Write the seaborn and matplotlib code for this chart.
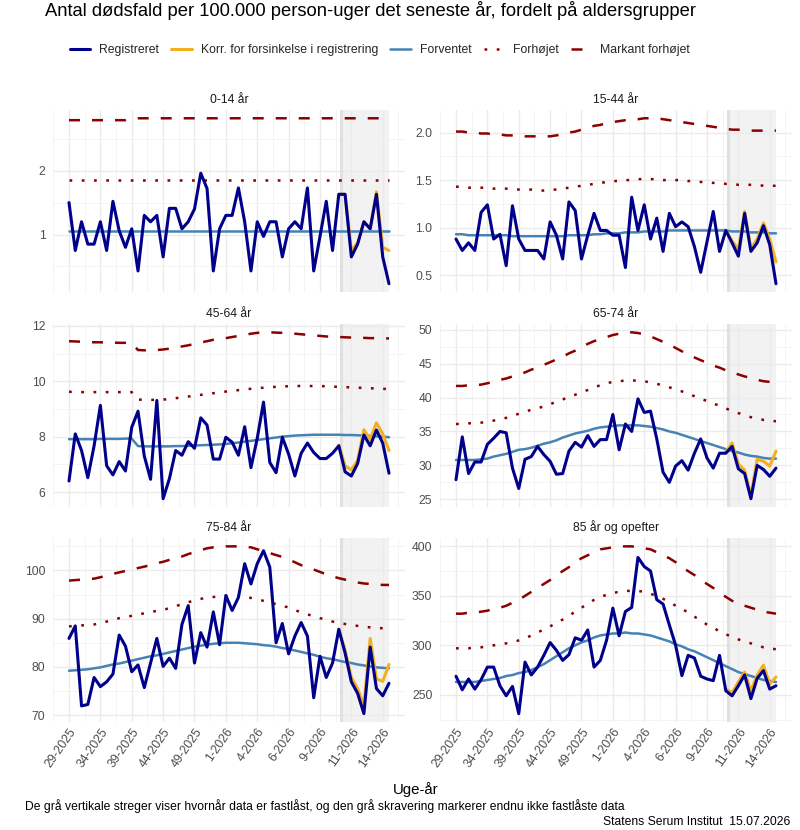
import numpy as np
import pandas as pd
import seaborn as sns
import matplotlib
matplotlib.use("Agg")
import matplotlib.pyplot as plt
from matplotlib.lines import Line2D
from matplotlib.ticker import FixedLocator, MultipleLocator, FormatStrFormatter

# ---------------- data ----------------
tick_labels = ["29-2025", "34-2025", "39-2025", "44-2025", "49-2025", "1-2026",
               "4-2026", "6-2026", "9-2026", "11-2026", "14-2026"]
tick_weeks = [0, 5, 10, 15, 20, 25, 30, 35, 40, 45, 50]
n_weeks = 52
corr_start = 43          # first week of the corrected series
locked_week = 43.4       # vertical grey line / start of shaded area

groups = ["0-14 år", "15-44 år", "45-64 år", "65-74 år", "75-84 år", "85 år og opefter"]

reg_0_14 = [1.5, 0.75, 1.2, 0.85, 0.85, 1.2, 0.75, 1.52, 1.06, 0.8, 1.09, 0.43, 1.3,
            1.2, 1.3, 0.65, 1.41, 1.41, 1.09, 1.2, 1.4, 1.96, 1.72, 0.43, 1.09, 1.3,
            1.3, 1.73, 1.2, 0.43, 1.2, 0.97, 1.2, 1.2, 0.65, 1.09, 1.2, 1.09, 1.73,
            0.43, 0.97, 1.52, 0.75, 1.63, 1.63, 0.65, 0.85, 1.2, 1.09, 1.63, 0.65, 0.23]
corr_0_14 = [1.63, 1.63, 0.75, 0.87, 1.2, 1.09, 1.67, 0.8, 0.75]
exp_0_14 = [1.06, 1.06, 1.06, 1.06, 1.06, 1.06, 1.06, 1.06, 1.06, 1.06, 1.06, 1.06, 1.06,
            1.06, 1.06, 1.06, 1.06, 1.06, 1.06, 1.06, 1.06, 1.06, 1.06, 1.06, 1.06, 1.06,
            1.06, 1.06, 1.06, 1.06, 1.06, 1.06, 1.06, 1.06, 1.06, 1.06, 1.06, 1.06, 1.06,
            1.06, 1.06, 1.06, 1.06, 1.06, 1.06, 1.06, 1.06, 1.06, 1.06, 1.06, 1.06, 1.06]
elev_0_14 = [1.86, 1.86, 1.86, 1.86, 1.86, 1.86, 1.86, 1.86, 1.86, 1.86, 1.86, 1.86, 1.86,
             1.86, 1.86, 1.86, 1.86, 1.86, 1.86, 1.86, 1.86, 1.86, 1.86, 1.86, 1.86, 1.86,
             1.86, 1.86, 1.86, 1.86, 1.86, 1.86, 1.86, 1.86, 1.86, 1.86, 1.86, 1.86, 1.86,
             1.86, 1.86, 1.86, 1.86, 1.86, 1.86, 1.86, 1.86, 1.86, 1.86, 1.86, 1.86, 1.86]
mark_0_14 = [2.79, 2.79, 2.79, 2.79, 2.79, 2.79, 2.79, 2.79, 2.79, 2.79, 2.82, 2.82, 2.82,
             2.82, 2.82, 2.82, 2.82, 2.82, 2.82, 2.82, 2.82, 2.82, 2.82, 2.82, 2.82, 2.82,
             2.82, 2.82, 2.82, 2.82, 2.82, 2.82, 2.82, 2.82, 2.82, 2.82, 2.82, 2.82, 2.82,
             2.82, 2.82, 2.82, 2.82, 2.82, 2.82, 2.82, 2.82, 2.82, 2.82, 2.82, 2.82, 2.82]

reg_15_44 = [0.88, 0.76, 0.84, 0.76, 1.16, 1.24, 0.88, 0.93, 0.6, 1.23, 0.88, 0.76, 0.76,
             0.76, 0.67, 1.06, 0.92, 0.67, 1.27, 1.18, 0.67, 0.92, 1.15, 0.97, 0.97, 0.92,
             0.92, 0.58, 1.32, 0.97, 1.24, 0.88, 1.1, 0.75, 1.15, 1.01, 1.06, 1.01, 0.8,
             0.53, 0.85, 1.17, 0.75, 0.97, 0.84, 0.7, 1.15, 0.75, 0.84, 1.02, 0.82, 0.41]
corr_15_44 = [0.97, 0.86, 0.77, 1.17, 0.78, 0.88, 1.05, 0.88, 0.64]
exp_15_44 = [0.93, 0.93, 0.92, 0.92, 0.92, 0.92, 0.92, 0.92, 0.92, 0.91, 0.91, 0.91, 0.91,
             0.91, 0.91, 0.91, 0.91, 0.91, 0.92, 0.92, 0.92, 0.92, 0.93, 0.93, 0.94, 0.94,
             0.94, 0.95, 0.95, 0.95, 0.96, 0.96, 0.96, 0.96, 0.97, 0.97, 0.97, 0.97, 0.97,
             0.97, 0.97, 0.97, 0.97, 0.97, 0.96, 0.96, 0.96, 0.95, 0.95, 0.95, 0.94, 0.94]
elev_15_44 = [1.43, 1.43, 1.42, 1.42, 1.42, 1.42, 1.41, 1.41, 1.41, 1.41, 1.40, 1.40, 1.40,
              1.39, 1.39, 1.40, 1.40, 1.41, 1.42, 1.43, 1.44, 1.45, 1.46, 1.47, 1.48, 1.49,
              1.49, 1.50, 1.50, 1.51, 1.51, 1.51, 1.51, 1.50, 1.50, 1.50, 1.50, 1.49, 1.49,
              1.48, 1.48, 1.47, 1.47, 1.46, 1.46, 1.45, 1.45, 1.45, 1.45, 1.44, 1.44, 1.44]
mark_15_44 = [2.01, 2.01, 2.00, 2.00, 1.99, 1.99, 1.98, 1.98, 1.97, 1.97, 1.97, 1.96, 1.96,
              1.96, 1.96, 1.96, 1.97, 1.98, 2.00, 2.01, 2.03, 2.05, 2.07, 2.08, 2.10, 2.11,
              2.12, 2.13, 2.14, 2.14, 2.15, 2.15, 2.15, 2.14, 2.13, 2.12, 2.11, 2.10, 2.09,
              2.08, 2.07, 2.06, 2.05, 2.04, 2.03, 2.03, 2.02, 2.02, 2.02, 2.02, 2.02, 2.02]

reg_45_64 = [6.4, 8.1, 7.5, 6.52, 7.67, 9.13, 6.95, 6.62, 7.1, 6.76, 8.34, 8.92, 7.3,
             6.46, 9.31, 5.76, 6.48, 7.5, 7.33, 7.82, 7.58, 8.68, 8.42, 7.19, 7.19, 7.98,
             7.8, 7.33, 8.36, 6.88, 7.94, 9.25, 7.07, 6.7, 7.98, 7.37, 6.58, 7.4, 7.77,
             7.43, 7.21, 7.21, 7.4, 7.67, 6.73, 6.58, 7.03, 8.06, 7.67, 8.24, 7.77, 6.68]
corr_45_64 = [7.7, 6.95, 6.8, 7.15, 8.25, 7.9, 8.5, 8.1, 7.5]
exp_45_64 = [7.91, 7.91, 7.91, 7.91, 7.91, 7.92, 7.92, 7.92, 7.92, 7.93, 7.93, 7.66, 7.65,
             7.65, 7.65, 7.65, 7.65, 7.66, 7.66, 7.67, 7.68, 7.69, 7.70, 7.71, 7.72, 7.74,
             7.76, 7.79, 7.82, 7.85, 7.88, 7.91, 7.94, 7.97, 8.00, 8.02, 8.04, 8.05, 8.06,
             8.07, 8.07, 8.07, 8.07, 8.07, 8.06, 8.06, 8.05, 8.04, 8.03, 8.01, 8.00, 7.98]
elev_45_64 = [9.62, 9.62, 9.61, 9.61, 9.61, 9.61, 9.61, 9.61, 9.61, 9.61, 9.61, 9.34, 9.33,
              9.33, 9.33, 9.34, 9.36, 9.39, 9.42, 9.45, 9.48, 9.51, 9.54, 9.57, 9.60, 9.63,
              9.66, 9.68, 9.71, 9.73, 9.75, 9.77, 9.79, 9.80, 9.82, 9.82, 9.83, 9.83, 9.83,
              9.83, 9.83, 9.82, 9.81, 9.80, 9.79, 9.78, 9.77, 9.76, 9.75, 9.74, 9.73, 9.72]
mark_45_64 = [11.45, 11.44, 11.43, 11.42, 11.41, 11.41, 11.40, 11.40, 11.39, 11.39, 11.38,
              11.13, 11.12, 11.12, 11.13, 11.15, 11.18, 11.22, 11.26, 11.30, 11.35, 11.40,
              11.45, 11.50, 11.53, 11.56, 11.60, 11.64, 11.68, 11.72, 11.75, 11.77, 11.77,
              11.76, 11.75, 11.74, 11.72, 11.70, 11.68, 11.66, 11.64, 11.62, 11.61, 11.60,
              11.59, 11.58, 11.57, 11.57, 11.56, 11.56, 11.55, 11.55]

reg_65_74 = [27.9, 34.2, 28.8, 30.5, 30.5, 33.1, 34.0, 35.0, 34.8, 29.6, 26.6, 30.9, 31.3,
             32.8, 31.6, 30.6, 28.7, 28.8, 32.1, 33.4, 32.7, 34.4, 32.8, 33.8, 33.8, 37.5,
             32.3, 36.1, 35.0, 39.8, 37.8, 38.0, 33.9, 29.0, 27.5, 29.9, 30.7, 29.3, 31.8,
             33.9, 31.1, 29.6, 31.8, 31.8, 32.8, 29.5, 28.8, 25.1, 30.0, 29.4, 28.4, 29.6]
corr_65_74 = [32.0, 33.3, 30.2, 29.3, 25.5, 30.9, 30.6, 29.9, 32.1]
exp_65_74 = [30.8, 30.8, 30.8, 30.8, 30.9, 31.0, 31.3, 31.5, 31.7, 32.0, 32.3, 32.4, 32.6,
             32.9, 33.2, 33.4, 33.7, 34.1, 34.4, 34.7, 34.9, 35.1, 35.4, 35.6, 35.7, 35.8,
             35.9, 35.9, 35.9, 35.9, 35.8, 35.7, 35.5, 35.3, 35.0, 34.8, 34.5, 34.2, 33.9,
             33.6, 33.3, 33.0, 32.7, 32.4, 32.1, 31.9, 31.6, 31.4, 31.3, 31.1, 31.0, 31.0]
elev_65_74 = [36.1, 36.1, 36.2, 36.2, 36.3, 36.4, 36.6, 36.8, 37.0, 37.3, 37.6, 37.9, 38.2,
              38.4, 38.7, 39.0, 39.4, 39.7, 40.1, 40.4, 40.8, 41.1, 41.5, 41.8, 42.1, 42.3,
              42.4, 42.5, 42.5, 42.5, 42.4, 42.2, 42.0, 41.8, 41.5, 41.2, 40.9, 40.5, 40.2,
              39.8, 39.5, 39.1, 38.8, 38.4, 38.0, 37.7, 37.4, 37.1, 36.9, 36.7, 36.6, 36.5]
mark_65_74 = [41.7, 41.7, 41.8, 41.8, 41.9, 42.1, 42.3, 42.6, 42.8, 43.1, 43.4, 43.7, 44.1,
              44.4, 44.8, 45.2, 45.6, 46.0, 46.5, 46.9, 47.4, 47.9, 48.3, 48.6, 48.9, 49.2,
              49.4, 49.6, 49.6, 49.5, 49.3, 49.0, 48.6, 48.2, 47.8, 47.3, 46.8, 46.3, 45.9,
              45.5, 45.1, 44.7, 44.4, 44.0, 43.7, 43.4, 43.1, 42.9, 42.6, 42.4, 42.3, 42.2]

reg_75_84 = [85.9, 88.5, 71.9, 72.2, 77.8, 75.9, 76.9, 78.5, 86.6, 84.3, 79.0, 80.4, 75.7,
             80.8, 85.9, 80.1, 81.8, 79.7, 88.8, 92.7, 80.8, 87.1, 84.1, 91.4, 84.6, 94.8,
             91.7, 94.4, 101.4, 97.2, 101.4, 104.1, 100.7, 85.0, 89.0, 82.7, 86.4, 89.2, 86.4,
             73.6, 82.2, 77.8, 80.8, 87.8, 82.9, 76.9, 74.5, 70.3, 84.1, 75.5, 74.0, 76.6]
corr_75_84 = [87.8, 83.5, 77.8, 75.5, 72.0, 85.9, 77.5, 77.0, 80.5]
exp_75_84 = [79.2, 79.3, 79.4, 79.5, 79.7, 79.9, 80.2, 80.5, 80.7, 81.0, 81.3, 81.6, 81.9,
             82.2, 82.4, 82.7, 83.0, 83.3, 83.6, 83.9, 84.2, 84.4, 84.6, 84.8, 84.9, 85.0,
             85.0, 85.0, 84.9, 84.8, 84.7, 84.5, 84.4, 84.2, 83.9, 83.7, 83.4, 83.1, 82.8,
             82.5, 82.1, 81.8, 81.6, 81.3, 81.0, 80.8, 80.5, 80.3, 80.1, 79.9, 79.8, 79.7]
elev_75_84 = [88.4, 88.5, 88.6, 88.7, 88.8, 89.1, 89.4, 89.8, 90.1, 90.3, 90.6, 90.9, 91.1,
              91.4, 91.6, 91.8, 92.2, 92.6, 93.0, 93.4, 93.8, 94.1, 94.4, 94.5, 94.6, 94.7,
              94.7, 94.6, 94.5, 94.3, 94.0, 93.7, 93.4, 93.0, 92.7, 92.3, 91.8, 91.3, 90.9,
              90.5, 90.1, 89.8, 89.4, 89.1, 88.9, 88.7, 88.5, 88.3, 88.2, 88.1, 88.0, 88.0]
mark_75_84 = [97.9, 98.0, 98.1, 98.2, 98.3, 98.6, 98.9, 99.3, 99.6, 99.9, 100.2, 100.5, 100.8,
              101.1, 101.5, 101.8, 102.2, 102.6, 102.9, 103.4, 103.8, 104.2, 104.6, 104.8,
              104.9, 105.0, 105.0, 105.0, 104.9, 104.8, 104.4, 104.0, 103.6, 103.2, 102.8,
              102.3, 101.7, 101.1, 100.6, 100.2, 99.7, 99.2, 98.8, 98.4, 98.1, 97.8, 97.5,
              97.3, 97.2, 97.1, 97.0, 97.0]

reg_85 = [268.8, 255.1, 266.0, 255.8, 265.3, 278.0, 278.0, 259.2, 249.0, 258.5, 231.0, 283.1,
          270.1, 278.0, 289.9, 302.8, 295.0, 284.8, 290.6, 307.6, 305.2, 315.5, 278.0, 284.8,
          305.2, 337.6, 309.7, 334.2, 338.3, 388.8, 379.6, 375.1, 346.1, 341.7, 320.6, 300.1,
          269.4, 289.9, 287.2, 268.8, 266.0, 264.3, 289.9, 254.1, 249.0, 259.2, 270.1, 246.2,
          266.7, 274.5, 255.8, 259.2]
corr_85 = [256, 252, 263, 273, 254, 270, 280, 261, 268]
exp_85 = [263, 263, 263, 263, 264, 265, 266, 267, 269, 270, 272, 273, 275, 278, 281, 285,
          289, 293, 297, 300, 303, 305, 308, 310, 311, 312, 312, 313, 312, 312, 311, 310,
          308, 306, 304, 301, 299, 296, 294, 291, 288, 285, 282, 279, 276, 273, 271, 269,
          267, 265, 264, 263]
elev_85 = [297, 297, 297, 298, 298, 299, 300, 301, 302, 303, 305, 307, 310, 313, 316, 319,
           323, 326, 330, 334, 338, 342, 346, 349, 351, 353, 354, 355, 355, 355, 354, 352,
           350, 347, 344, 340, 337, 333, 329, 325, 321, 318, 314, 311, 309, 306, 304, 302,
           300, 298, 297, 296]
mark_85 = [332, 332, 333, 333, 334, 335, 337, 338, 340, 343, 346, 350, 354, 358, 362, 366,
           371, 375, 379, 384, 388, 391, 394, 397, 398, 399, 400, 400, 400, 399, 398, 397,
           394, 391, 388, 384, 379, 375, 371, 366, 362, 358, 353, 349, 345, 342, 340, 338,
           336, 334, 333, 332]

y_steps = [1, 0.5, 2, 5, 10, 50]
y_formats = ["%d", "%.1f", "%d", "%d", "%d", "%d"]

series = {
    "0-14 år": (reg_0_14, corr_0_14, exp_0_14, elev_0_14, mark_0_14),
    "15-44 år": (reg_15_44, corr_15_44, exp_15_44, elev_15_44, mark_15_44),
    "45-64 år": (reg_45_64, corr_45_64, exp_45_64, elev_45_64, mark_45_64),
    "65-74 år": (reg_65_74, corr_65_74, exp_65_74, elev_65_74, mark_65_74),
    "75-84 år": (reg_75_84, corr_75_84, exp_75_84, elev_75_84, mark_75_84),
    "85 år og opefter": (reg_85, corr_85, exp_85, elev_85, mark_85),
}

# ---------------- style ----------------
sns.set_theme(style="whitegrid")
plt.rcParams["font.family"] = ["Liberation Sans", "DejaVu Sans"]

C_REG = "#00008B"
C_CORR = "#F2B01E"
C_EXP = "#4682B4"
C_RED = "#8B0000"
LW_REG = 2.2
LW_EXP = 1.8
LW_RED = 1.8
DASHED = (0, (4.4, 4.8))
DOTTED = (0, (1.1, 3.8))
TICK_FS = 8.7

fig = plt.figure(figsize=(8, 8.3), dpi=100)
W, H = 800, 830
col_x = [53, 440]
col_w = 352
row_top = [110, 324, 538]
row_h = [182, 183, 184]

weeks = np.arange(n_weeks)
corr_weeks = weeks[corr_start:]

for i, g in enumerate(groups):
    r, c = divmod(i, 2)
    ax = fig.add_axes([col_x[c] / W, 1 - (row_top[r] + row_h[r]) / H, col_w / W, row_h[r] / H])
    reg, corr, exp, elev, mark = series[g]

    ax.axvspan(locked_week, n_weeks - 1, color="#F2F2F2", zorder=0.5, lw=0)
    ax.axvline(locked_week, color="#E0E0E0", lw=2.2, zorder=0.6)

    df = pd.DataFrame({"week": weeks, "reg": reg, "exp": exp, "elev": elev, "mark": mark})
    dfc = pd.DataFrame({"week": corr_weeks, "corr": corr})

    sns.lineplot(data=df, x="week", y="exp", ax=ax, color=C_EXP, linewidth=LW_EXP, zorder=2)
    sns.lineplot(data=df, x="week", y="elev", ax=ax, color=C_RED, linewidth=LW_RED, zorder=2)
    ax.lines[-1].set_linestyle(DOTTED)
    sns.lineplot(data=df, x="week", y="mark", ax=ax, color=C_RED, linewidth=LW_RED, zorder=2)
    ax.lines[-1].set_linestyle(DASHED)
    sns.lineplot(data=dfc, x="week", y="corr", ax=ax, color=C_CORR, linewidth=LW_REG, zorder=3)
    sns.lineplot(data=df, x="week", y="reg", ax=ax, color=C_REG, linewidth=LW_REG, zorder=4)

    ax.set_xlim(-2.55, n_weeks - 1 + 2.55)
    ax.xaxis.set_major_locator(FixedLocator(tick_weeks))
    ax.xaxis.set_minor_locator(MultipleLocator(2.5))
    ax.yaxis.set_major_locator(MultipleLocator(y_steps[i]))
    ax.yaxis.set_minor_locator(MultipleLocator(y_steps[i] / 2))
    ax.yaxis.set_major_formatter(FormatStrFormatter(y_formats[i]))

    ax.set_facecolor("white")
    for s in ax.spines.values():
        s.set_visible(False)
    ax.grid(which="major", color="#EBEBEB", lw=1.0)
    ax.grid(which="minor", color="#F3F3F3", lw=0.6)
    ax.set_axisbelow(True)
    ax.tick_params(which="both", length=0, labelsize=TICK_FS, colors="#4D4D4D", pad=5.5)
    ax.set_xlabel("")
    ax.set_ylabel("")
    ax.set_title(g, fontsize=8.7, color="#1A1A1A", pad=5)

    if r == 2:
        ax.set_xticks(tick_weeks)
        ax.set_xticklabels(tick_labels, rotation=55, ha="right", rotation_mode="anchor")
        ax.tick_params(axis="x", pad=3)
    else:
        ax.set_xticklabels([])

# ---------------- title, legend, captions ----------------
fig.text(45 / W, 1 - 11 / H, "Antal dødsfald per 100.000 person-uger det seneste år, fordelt på aldersgrupper",
         fontsize=13.2, va="center", ha="left", color="black")

handles = [
    Line2D([], [], color=C_REG, lw=LW_REG),
    Line2D([], [], color=C_CORR, lw=LW_REG),
    Line2D([], [], color=C_EXP, lw=LW_EXP),
    Line2D([], [], color=C_RED, lw=LW_RED, linestyle=DOTTED),
    Line2D([], [], color=C_RED, lw=LW_RED, linestyle=DASHED),
]
labels = ["Registreret", "Korr. for forsinkelse i registrering", "Forventet", "Forhøjet", "Markant forhøjet"]
fig.legend(handles, labels, loc="center left", bbox_to_anchor=(70 / W, 1 - 50 / H), ncol=5,
           frameon=False, fontsize=8.8, handlelength=1.65, columnspacing=1.0, handletextpad=0.75,
           borderpad=0, borderaxespad=0)

fig.text(0.52, 1 - 790 / H, "Uge-år", fontsize=10.8, ha="center", va="center", color="black")
fig.text(25 / W, 1 - 806 / H,
         "De grå vertikale streger viser hvornår data er fastlåst, og den grå skravering markerer endnu ikke fastlåste data",
         fontsize=8.7, ha="left", va="center", color="black")
fig.text(790 / W, 1 - 822 / H, "Statens Serum Institut  15.07.2026", fontsize=8.7, ha="right", va="center",
         color="black")

fig.savefig("out.png", dpi=100)
